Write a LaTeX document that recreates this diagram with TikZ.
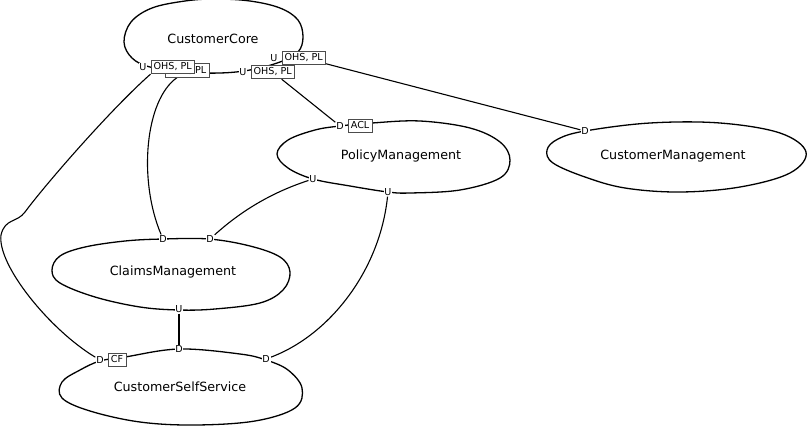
\documentclass[tikz,border=0pt]{standalone}
\usepackage{fontspec}
\setmainfont{DejaVu Sans}
\usetikzlibrary{positioning,backgrounds}

\begin{document}
\begin{tikzpicture}[
  x=1pt, y=-1pt,
  ctx/.style={font=\fontsize{12.7}{15}\selectfont, anchor=base},
  blob/.style={line width=1.3pt, tension=0.6},
  side/.style={font=\fontsize{9.6}{11}\selectfont, fill=white, inner sep=0.8pt},
  tag/.style={draw=black!70, line width=0.7pt, fill=white,
              font=\fontsize{9.6}{11}\selectfont, inner xsep=2.8pt, inner ysep=2.3pt,
              text height=7.2pt, text depth=1.8pt},
  rel/.style={line width=1.1pt},
]
  \useasboundingbox (0,0) rectangle (808,426);

  % bounded contexts
  \node[ctx] (core) at (213,43.6) {CustomerCore};
  \node[ctx] (policy) at (401,159.6) {PolicyManagement};
  \node[ctx] (mgmt) at (673,159.6) {CustomerManagement};
  \node[ctx] (claims) at (173,275) {ClaimsManagement};
  \node[ctx] (self) at (180,391.6) {CustomerSelfService};

  % relation ends
  \node[side] (coreU2) at (157.5,70.5) {U};
  \node[tag, right=3pt of coreU2] (coreT2) {OHS, PL};
  \node[side] (coreU1) at (143,67) {U};
  \node[tag, right=3pt of coreU1] (coreT1) {OHS, PL};
  \node[side] (coreU3) at (243,72) {U};
  \node[tag, right=3pt of coreU3] (coreT3) {OHS, PL};
  \node[side] (coreU4) at (274,58) {U};
  \node[tag, right=3pt of coreU4] (coreT4) {OHS, PL};

  \node[side] (policyD) at (340,126) {D};
  \node[tag, right=3pt of policyD] (policyT) {ACL};
  \node[side] (policyU1) at (313,179) {U};
  \node[side] (policyU2) at (388,192) {U};

  \node[side] (mgmtD) at (585,131) {D};

  \node[side] (claimsD1) at (163,239) {D};
  \node[side] (claimsD2) at (210,239) {D};
  \node[side] (claimsU) at (179,309) {U};

  \node[side] (selfD1) at (100,360) {D};
  \node[tag, right=3pt of selfD1] (selfT) {CF};
  \node[side] (selfD2) at (179,349) {D};
  \node[side] (selfD3) at (266,359) {D};

  \begin{scope}[on background layer]
    % outlines
    \draw[blob] plot[smooth cycle] coordinates {(124,42) (131,22) (152,8) (185,1)
      (215,-1) (250,1) (280,8) (298,20) (303,37) (298,52) (280,62) (250,70)
      (220,73) (185,72) (150,67) (132,58)};
    \draw[blob] plot[smooth cycle] coordinates {(340,126) (372,123) (420,121)
      (470,128) (500,142) (510,160) (500,178) (460,190) (410,193) (388,192)
      (350,186) (313,179) (288,168) (277,154) (288,140) (315,130)};
    \draw[blob] plot[smooth cycle] coordinates {(585,131) (650,123) (720,123)
      (780,133) (806,152) (790,173) (740,187) (680,192) (625,188) (585,177)
      (553,163) (547,150) (558,139)};
    \draw[blob] plot[smooth cycle] coordinates {(163,239) (209,239) (250,246)
      (280,257) (290,272) (283,290) (260,303) (215,309) (179,310) (140,307)
      (95,297) (60,283) (52,270) (60,256) (85,247) (125,241)};
    \draw[blob] plot[smooth cycle] coordinates {(100,361) (125,357) (179,349)
      (240,354) (266,360) (288,370) (302,388) (295,408) (255,421) (195,425)
      (140,422) (90,411) (62,398) (62,382) (80,370)};

    % relations
    \draw[rel] (coreT1.south west) .. controls (110,110) and (45,185) .. (25,212)
      .. controls (17,223) and (5,218) .. (1,235)
      .. controls (-3,265) and (50,330) .. (selfD1);
    \draw[rel] (coreT2) .. controls (145,100) and (138,180) .. (claimsD1);
    \draw[rel] (coreT3) -- (policyD);
    \draw[rel] (coreT4) -- (mgmtD);
    \draw[rel] (policyU1) .. controls (270,193) and (240,212) .. (claimsD2);
    \draw[rel] (policyU2) .. controls (380,270) and (330,335) .. (selfD3);
    \draw[rel] (claimsU) -- (selfD2);
  \end{scope}
\end{tikzpicture}
\end{document}
